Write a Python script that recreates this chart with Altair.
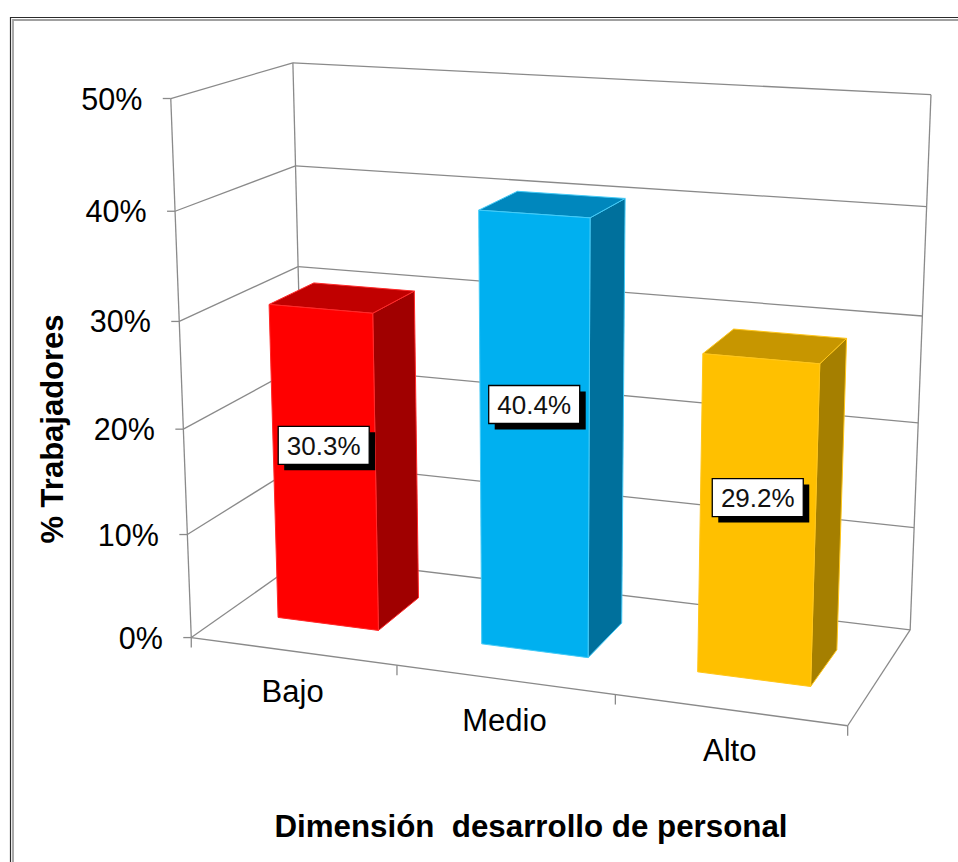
import altair as alt
import numpy as np
import pandas as pd

# ---- chart values -------------------------------------------------------
categories = ["Bajo", "Medio", "Alto"]
values = [30.3, 40.4, 29.2]                      # % of workers per level
front_colors = ["#FF0000", "#00B0F0", "#FFC000"]
top_colors = ["#C00000", "#0087BD", "#C79600"]
side_colors = ["#A00000", "#00709C", "#A57F00"]
edge_colors = ["#FF2A2A", "#45CBF7", "#FFC61A"]
y_ticks = [0, 10, 20, 30, 40, 50]
y_tick_labels = ["0%", "10%", "20%", "30%", "40%", "50%"]
y_title = "% Trabajadores"
x_title = "Dimensión\u00a0 desarrollo de personal"

W, H = 958, 862

# ---- 3D view ------------------------------------------------------------
# u runs along the category slots (one unit each), v is the value in tens of
# percent and w is the depth from the front edge (0) to the back wall (1).
CAMERA = np.array([
    [194.1649, -5.963868, 143.165087, 191.268526],
    [8.293191, -108.889971, -27.793009, 637.58262],
    [-0.029064, -0.010916, 0.094642, 1.0],
])
N_SLOTS = len(categories)
BAR_U = (0.25, 0.75)      # bar extent inside its slot
BAR_W = (0.31, 0.70)      # bar extent in depth
V_MAX = y_ticks[-1]


def project(u, pct, w):
    h = CAMERA @ np.array([u, pct / 10.0, w, 1.0])
    return float(h[0] / h[2]), float(h[1] / h[2])


# walls, floor and gridlines as straight segments
segments = []


def seg(a, b):
    x1, y1 = project(*a)
    x2, y2 = project(*b)
    segments.append({"x": x1, "y": y1, "x2": x2, "y2": y2})


for t in y_ticks:
    seg((0, t, 0), (0, t, 1))              # side wall
    seg((0, t, 1), (N_SLOTS, t, 1))        # back wall
seg((0, 0, 0), (0, V_MAX, 0))
seg((0, 0, 1), (0, V_MAX, 1))
seg((N_SLOTS, 0, 1), (N_SLOTS, V_MAX, 1))
seg((0, 0, 0), (N_SLOTS, 0, 0))
seg((N_SLOTS, 0, 0), (N_SLOTS, 0, 1))
walls_df = pd.DataFrame(segments)

# tick marks on the value axis and on the category edge
ticks = []
for t in y_ticks:
    x, y = project(0, t, 0)
    ticks.append({"x": x - 8, "y": y, "x2": x, "y2": y})
for i in range(N_SLOTS + 1):
    x, y = project(i, 0, 0)
    ticks.append({"x": x, "y": y, "x2": x, "y2": y + 10})
ticks_df = pd.DataFrame(ticks)

# bar faces as closed polygons
faces = []
for i, (cat, val) in enumerate(zip(categories, values)):
    u0, u1 = i + BAR_U[0], i + BAR_U[1]
    w0, w1 = BAR_W
    polys = {
        "side": ([(u1, 0, w0), (u1, 0, w1), (u1, val, w1), (u1, val, w0)], side_colors[i]),
        "top": ([(u0, val, w0), (u1, val, w0), (u1, val, w1), (u0, val, w1)], top_colors[i]),
        "front": ([(u0, 0, w0), (u1, 0, w0), (u1, val, w0), (u0, val, w0)], front_colors[i]),
    }
    for name, (corners, col) in polys.items():
        for k, c in enumerate(corners + corners[:1]):
            x, y = project(*c)
            faces.append({"face": f"{cat}-{name}", "k": k, "x": x, "y": y,
                          "fill": col, "edge": edge_colors[i]})
faces_df = pd.DataFrame(faces)

# value labels on the front faces
BOX_W, BOX_H, SHADOW = 91, 38, 6
labels = []
for i, val in enumerate(values):
    x, y = project(i + 0.5, 0.575 * val, BAR_W[0])
    labels.append({"x": x - BOX_W / 2, "x2": x + BOX_W / 2,
                   "y": y - BOX_H / 2, "y2": y + BOX_H / 2,
                   "sx": x - BOX_W / 2 + SHADOW, "sx2": x + BOX_W / 2 + SHADOW,
                   "sy": y - BOX_H / 2 + SHADOW, "sy2": y + BOX_H / 2 + SHADOW,
                   "cx": x, "cy": y, "text": f"{val:.1f}%"})
labels_df = pd.DataFrame(labels)

ytick_df = pd.DataFrame([
    dict(zip(("x", "y"), project(0, t, 0)), text=lab)
    for t, lab in zip(y_ticks, y_tick_labels)
])
cat_df = pd.DataFrame([
    dict(zip(("x", "y"), project(i + 0.5, 0, 0)), text=c)
    for i, c in enumerate(categories)
])

# ---- encodings ------------------------------------------------------------
xs = alt.Scale(domain=[0, W], nice=False, zero=False)
ys = alt.Scale(domain=[0, H], nice=False, zero=False, reverse=True)
FONT = "Liberation Sans"


def X(f):
    return alt.X(f"{f}:Q", scale=xs, axis=None)


def Y(f):
    return alt.Y(f"{f}:Q", scale=ys, axis=None)


blank = pd.DataFrame({"a": [0]})
frame_outer = alt.Chart(blank).mark_rect(
    fillOpacity=0, stroke="#2b2b2b", strokeWidth=1.2
).encode(x=alt.value(10.5), y=alt.value(17.5), x2=alt.value(W + 30), y2=alt.value(H + 30))
frame_inner = alt.Chart(blank).mark_rect(
    fillOpacity=0, stroke="#a0a0a0", strokeWidth=1.8
).encode(x=alt.value(13), y=alt.value(20), x2=alt.value(W + 30), y2=alt.value(H + 30))

walls = alt.Chart(walls_df).mark_rule(color="#8a8a8a", strokeWidth=1.3).encode(
    x=X("x"), y=Y("y"), x2="x2:Q", y2="y2:Q")
tick_marks = alt.Chart(ticks_df).mark_rule(color="#8a8a8a", strokeWidth=1.3).encode(
    x=X("x"), y=Y("y"), x2="x2:Q", y2="y2:Q")

bars = alt.Chart(faces_df).mark_line(strokeWidth=1, strokeJoin="miter").encode(
    x=X("x"), y=Y("y"),
    order="k:Q", detail="face:N",
    fill=alt.Fill("fill:N", scale=None),
    stroke=alt.Stroke("edge:N", scale=None),
)

shadows = alt.Chart(labels_df).mark_rect(color="#000000").encode(
    x=X("sx"), x2="sx2:Q", y=Y("sy"), y2="sy2:Q")
boxes = alt.Chart(labels_df).mark_rect(fill="#ffffff", stroke="#000000", strokeWidth=1.3).encode(
    x=X("x"), x2="x2:Q", y=Y("y"), y2="y2:Q")
label_text = alt.Chart(labels_df).mark_text(
    font=FONT, fontSize=26, color="#111111", align="center", baseline="middle", dy=1.5
).encode(x=X("cx"), y=Y("cy"), text="text:N")

ytick_text = alt.Chart(ytick_df).mark_text(
    font=FONT, fontSize=30.5, color="#000000", align="right", baseline="alphabetic",
    dx=-28.5, dy=11
).encode(x=X("x"), y=Y("y"), text="text:N")
cat_text = alt.Chart(cat_df).mark_text(
    font=FONT, fontSize=31, color="#000000", align="center", baseline="alphabetic", dy=51
).encode(x=X("x"), y=Y("y"), text="text:N")

ytitle = alt.Chart(pd.DataFrame({"t": [y_title]})).mark_text(
    font=FONT, fontSize=31, fontWeight="bold", color="#000000", angle=270,
    align="center", baseline="alphabetic"
).encode(x=alt.value(63), y=alt.value(429), text="t:N")
xtitle = alt.Chart(pd.DataFrame({"t": [x_title]})).mark_text(
    font=FONT, fontSize=31.3, fontWeight="bold", color="#000000",
    align="center", baseline="alphabetic"
).encode(x=alt.value(531), y=alt.value(837), text="t:N")

chart = alt.layer(
    frame_outer, frame_inner, walls, tick_marks, bars,
    shadows, boxes, label_text, ytick_text, cat_text, ytitle, xtitle,
).properties(
    width=W, height=H, padding=0,
    autosize=alt.AutoSizeParams(type="none"),
    background="#ffffff",
).configure_view(stroke=None)

chart.save("out.html", embed_options={"renderer": "svg", "actions": False})
